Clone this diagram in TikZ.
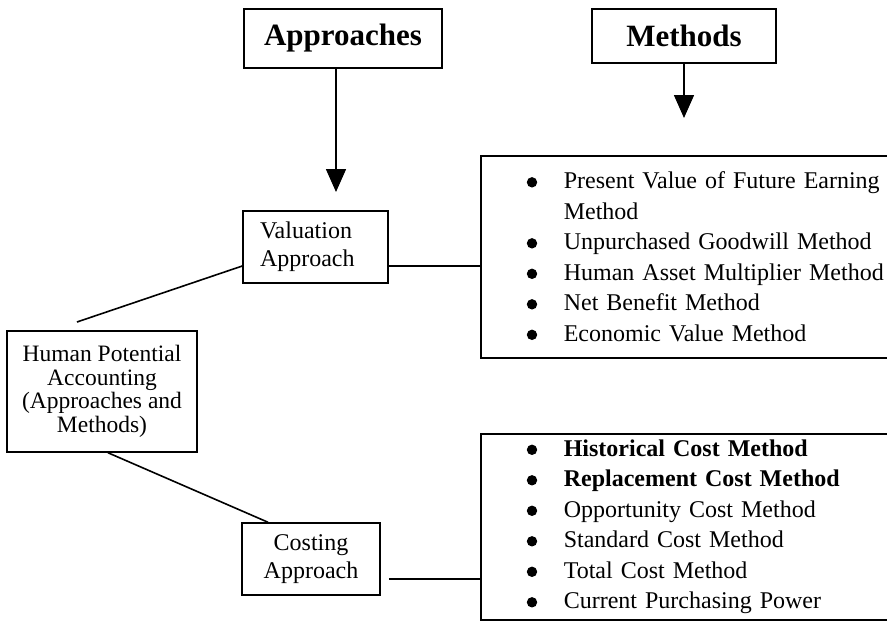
\documentclass[tikz,border=0pt]{standalone}
\usepackage{fontspec}
\setmainfont{Liberation Serif}
\usetikzlibrary{arrows.meta}

\tikzset{
  headbox/.style={draw, line width=1.6pt, inner sep=0pt, font=\fontsize{31}{36}\selectfont\bfseries},
  appbox/.style={draw, line width=1.5pt, inner sep=0pt, font=\fontsize{24}{28}\selectfont},
  listbox/.style={draw, line width=1.6pt, anchor=north west, align=left, inner xsep=46pt, inner ysep=0pt, text width=370pt, font=\fontsize{24}{30.5}\selectfont},
  link/.style={line width=1.6pt},
  bigarrow/.style={line width=1.6pt, -{Triangle[width=20pt,length=23pt]}}
}
\newcommand{\itm}{\makebox[37pt][l]{\tikz[baseline=-6.5pt]\fill (0,0) circle [radius=5.2pt];}}

\begin{document}
\begin{tikzpicture}[x=1pt,y=-1pt]
\useasboundingbox (0,0) rectangle (887,621);

% headings
\node[headbox, minimum width=198pt, minimum height=59pt] (appr) at (343,38.5) {Approaches};
\node[headbox, minimum width=184pt, minimum height=54pt] (meth) at (684,36) {Methods};

% approaches
\node[appbox, minimum width=145pt, minimum height=72pt, text width=111pt, inner xsep=17pt, align=left] (val) at (315.5,247) {Valuation\\Approach};
\node[appbox, minimum width=138pt, minimum height=72pt, align=center] (cost) at (311,559) {Costing\\Approach};
\node[appbox, minimum width=190pt, minimum height=121pt, align=center, font=\fontsize{23.5}{23.5}\selectfont] (hpa) at (102,391.5) {Human Potential\\Accounting\\(Approaches and\\Methods)};

% methods
\node[listbox, minimum height=202pt] (vlist) at (480,155) {\itm Present Value of Future Earning\\
\hspace*{37pt}Method\\
\itm Unpurchased Goodwill Method\\
\itm Human Asset Multiplier Method\\
\itm Net Benefit Method\\
\itm Economic Value Method};
\node[listbox, minimum height=186pt] (clist) at (480,433) {\itm\textbf{Historical Cost Method}\\
\itm\textbf{Replacement Cost Method}\\
\itm Opportunity Cost Method\\
\itm Standard Cost Method\\
\itm Total Cost Method\\
\itm Current Purchasing Power};

\coordinate (apptip) at (336,192);
\coordinate (methtip) at (684,118);
\coordinate (vy) at (0,266);
\coordinate (cy) at (0,579);
\coordinate (hpaend) at (77,322);
\coordinate (hx) at (108,0);
\coordinate (cx) at (268,0);

\draw[bigarrow] (appr.south -| apptip) -- (apptip);
\draw[bigarrow] (meth.south) -- (methtip);

\draw[link] (val.east |- vy) -- (vlist.west |- vy);
\draw[link] ([xshift=8pt]cost.east |- cy) -- (clist.west |- cy);

\draw[link] (hpaend) -- (val.west |- vy);
\draw[link] (hpa.south -| hx) -- (cost.north -| cx);

\end{tikzpicture}
\end{document}
